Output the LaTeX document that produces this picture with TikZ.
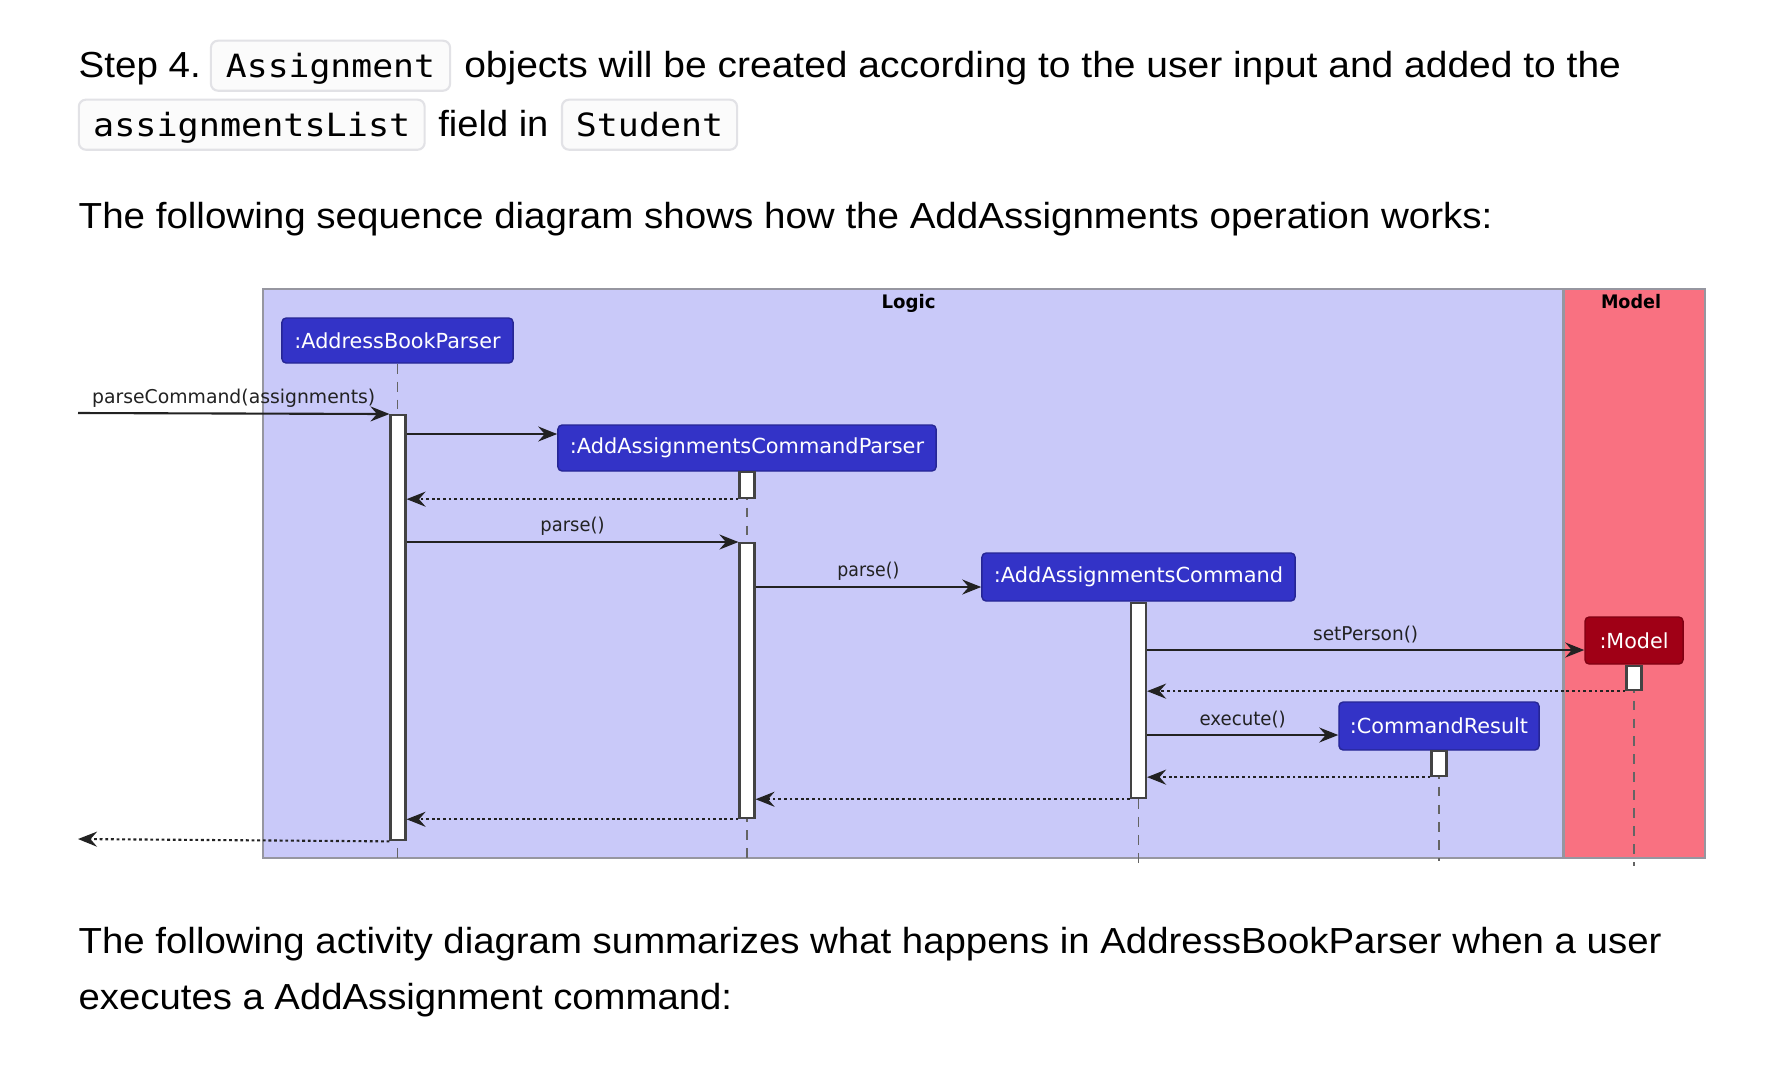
\documentclass[tikz,border=0pt]{standalone}
\usepackage{fontspec}
\usepackage{graphicx}
\setmainfont{Liberation Sans}
\newfontfamily\diagfont{DejaVu Sans}
\newfontfamily\codefont{DejaVu Sans Mono}
\usetikzlibrary{arrows.meta,calc}
\newcommand\fw[2]{\resizebox{#1}{\height}{#2}}
\definecolor{logicfill}{RGB}{201,201,249}
\definecolor{modelfill}{RGB}{249,113,129}
\definecolor{frameline}{RGB}{150,150,160}
\definecolor{partblue}{RGB}{51,51,199}
\definecolor{partred}{RGB}{160,0,22}
\definecolor{codeborder}{RGB}{226,226,230}
\definecolor{codefill}{RGB}{251,251,251}
\definecolor{ink}{RGB}{34,34,34}
\begin{document}
\begin{tikzpicture}[x=0.01cm, y=-0.01cm,
  body/.style={font=\fontsize{10.3}{12}\selectfont, text=black, inner sep=0, anchor=base west},
  codebox/.style={draw=codeborder, fill=codefill, rounded corners=2pt, line width=0.6pt,
    font=\codefont\fontsize{9.1}{11}\selectfont, anchor=base, inner ysep=0,
    text height=0.363cm, text depth=0.137cm},
  frame/.style={draw=frameline, line width=0.5pt, anchor=north west, inner sep=0},
  framelbl/.style={font=\diagfont\bfseries\fontsize{5.3}{6}\selectfont, text=black, inner sep=0, anchor=base},
  participant/.style={draw=partblue!75!black, fill=partblue, text=white, rounded corners=1.2pt,
    line width=0.4pt, inner sep=0, font=\diagfont\fontsize{5.9}{7}\selectfont},
  act/.style={draw=ink!85, fill=white, line width=0.6pt, minimum width=0.15cm, inner sep=0, anchor=north},
  lifeline/.style={draw=ink!70, line width=0.4pt, dash pattern=on 2.8pt off 2.3pt},
  msg/.style={draw=ink, line width=0.6pt, -{Stealth[length=0.19cm,width=0.15cm,inset=0.065cm]}},
  ret/.style={msg, dash pattern=on 0.8pt off 0.8pt},
  lbl/.style={font=\diagfont\fontsize{5.4}{6}\selectfont, text=ink, inner sep=0, midway, yshift=0.155cm}
]
\useasboundingbox (0,0) rectangle (1792,1087);
\fill[white] (0,0) rectangle (1792,1087);

% ---------- text above ----------
\node[body] (t1) at (78,77) {\fw{1.22cm}{Step 4.}};
\node[codebox, inner xsep=0.15cm] (cb1) at (330.5,77) {\fw{2.09cm}{Assignment}};
\node[body] (t2) at (463.6,77) {\fw{11.56cm}{objects will be created according to the user input and added to the}};
\node[codebox, inner xsep=0.143cm] (cb2) at (251.75,136) {\fw{3.17cm}{assignmentsList}};
\node[body] (t3) at (437.7,136) {\fw{1.10cm}{field in}};
\node[codebox, inner xsep=0.14cm] (cb3) at (649.5,136) {\fw{1.47cm}{Student}};
\node[body] (t4) at (78,228) {\fw{14.13cm}{The following sequence diagram shows how the AddAssignments operation works:}};

% ---------- frames ----------
\node[frame, fill=logicfill, minimum width=12.99cm, minimum height=5.69cm] (logic) at (262,288) {};
\node[frame, fill=modelfill, minimum width=1.41cm, minimum height=5.69cm] (modelframe) at (1563,288) {};
\node[framelbl] (logiclbl) at (908.5,308) {\fw{0.54cm}{Logic}};
\node[framelbl] (modellbl) at (1631,308) {\fw{0.60cm}{Model}};

% ---------- participants ----------
\node[participant, minimum width=2.31cm, minimum height=0.45cm] (abp) at (397.5,340.5) {\fw{2.06cm}{:AddressBookParser}};
\node[participant, minimum width=3.78cm, minimum height=0.46cm] (aacp) at (747,448) {\fw{3.54cm}{:AddAssignmentsCommandParser}};
\node[participant, minimum width=3.13cm, minimum height=0.48cm] (aac) at (1138.5,577) {\fw{2.89cm}{:AddAssignmentsCommand}};
\node[participant, fill=partred, draw=partred!80!black, minimum width=0.98cm, minimum height=0.47cm] (model) at (1634,640.5) {\fw{0.69cm}{:Model}};
\node[participant, minimum width=2.00cm, minimum height=0.48cm] (cr) at (1439,726) {\fw{1.78cm}{:CommandResult}};

% ---------- lifelines ----------
\coordinate (endL) at (0,861);
\coordinate (endR) at (0,866);
\draw[lifeline] (abp.south) -- (abp.south |- endL);
\draw[lifeline] (aacp.south) -- (aacp.south |- endL);
\draw[lifeline] (aac.south) -- (aac.south |- endR);
\draw[lifeline] (cr.south) -- (cr.south |- endL);
\draw[lifeline] (model.south) -- (model.south |- endR);

% ---------- activation bars ----------
\node[act, minimum height=4.25cm] (a1) at (398,414) {};
\node[act, minimum height=0.26cm] (p1) at (747,471) {};
\node[act, minimum height=2.75cm] (p2) at (747,542) {};
\node[act, minimum height=1.95cm] (c1) at (1138.5,602) {};
\node[act, minimum height=0.24cm] (m1) at (1634,665) {};
\node[act, minimum height=0.25cm] (r1) at (1439,750) {};

% ---------- messages ----------
\coordinate (inL) at (78,413);
\coordinate (outL) at (78,839);
\coordinate (y434) at (0,434);
\coordinate (y587) at (0,587);
\coordinate (y650) at (0,650);
\coordinate (y735) at (0,735);

\draw[msg] (inL) -- (a1.north west) node[lbl] {\fw{2.83cm}{parseCommand(assignments)}};
\draw[msg] (a1.east |- y434) -- (aacp.west |- y434);
\draw[ret] (p1.south west) -- (a1.east |- p1.south west);
\draw[msg] (a1.east |- p2.north) -- (p2.north west) node[lbl] {\fw{0.64cm}{parse()}};
\draw[msg] (p2.east |- y587) -- (aac.west |- y587) node[lbl] {\fw{0.62cm}{parse()}};
\draw[msg] (c1.east |- y650) -- (model.west |- y650) node[lbl] {\fw{1.05cm}{setPerson()}};
\draw[ret] (m1.south west) -- (c1.east |- m1.south west);
\draw[msg] (c1.east |- y735) -- (cr.west |- y735) node[lbl] {\fw{0.86cm}{execute()}};
\draw[ret] (r1.south west) -- (c1.east |- r1.south west);
\draw[ret] (c1.south west) -- (p2.east |- c1.south west);
\draw[ret] (p2.south west) -- (a1.east |- p2.south west);
\draw[ret] (a1.south west) -- (outL);

% ---------- text below ----------
\node[body] (t5) at (78,953) {\fw{15.82cm}{The following activity diagram summarizes what happens in AddressBookParser when a user}};
\node[body] (t6) at (78,1009) {\fw{6.53cm}{executes a AddAssignment command:}};
\end{tikzpicture}
\end{document}
